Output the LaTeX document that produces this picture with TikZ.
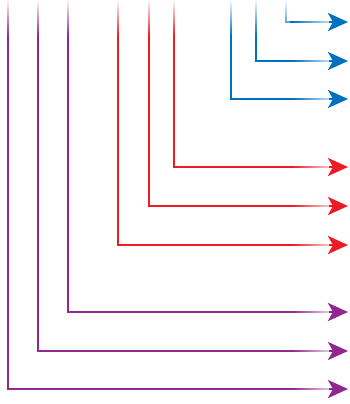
\documentclass[tikz,border=0pt]{standalone}
\usetikzlibrary{arrows.meta,fadings}
\definecolor{mainblue}{RGB}{0,112,192}
\definecolor{mainred}{RGB}{237,28,36}
\definecolor{mainpurple}{RGB}{146,39,143}

\begin{document}
\begin{tikzpicture}[x=1pt,y=-1pt,line width=2.6pt,
  arr/.style={-{Stealth[length=20pt,width=18pt,inset=5pt]}},
  fadebox/.style={fill=white,fill opacity=0.75,path fading=west}]
\useasboundingbox (0,0) rectangle (349,404);
% start points at the top edge
\coordinate (b1) at (286,0); \coordinate (b2) at (256,0); \coordinate (b3) at (231,0);
\coordinate (r1) at (174,0); \coordinate (r2) at (149,0); \coordinate (r3) at (118,0);
\coordinate (p1) at (68,0); \coordinate (p2) at (38,0); \coordinate (p3) at (8,0);
% arrow ends
\coordinate (eb1) at (348,22); \coordinate (eb2) at (348,61); \coordinate (eb3) at (348,99);
\coordinate (er1) at (348,167); \coordinate (er2) at (348,206); \coordinate (er3) at (348,245);
\coordinate (ep1) at (348,312); \coordinate (ep2) at (348,351); \coordinate (ep3) at (348,389);
\draw[mainblue,arr] (b1) |- (eb1); \draw[mainblue,arr] (b2) |- (eb2); \draw[mainblue,arr] (b3) |- (eb3);
\draw[mainred,arr] (r1) |- (er1); \draw[mainred,arr] (r2) |- (er2); \draw[mainred,arr] (r3) |- (er3);
\draw[mainpurple,arr] (p1) |- (ep1); \draw[mainpurple,arr] (p2) |- (ep2); \draw[mainpurple,arr] (p3) |- (ep3);
% soft ends
\fill[white,path fading=south] (0,-1) rectangle (290,36);
\foreach \y in {22,61,99,167,206,245,312,351,389}
  \fill[fadebox] (292,\y-2.5) rectangle (329,\y+2.5);
\end{tikzpicture}
\end{document}
